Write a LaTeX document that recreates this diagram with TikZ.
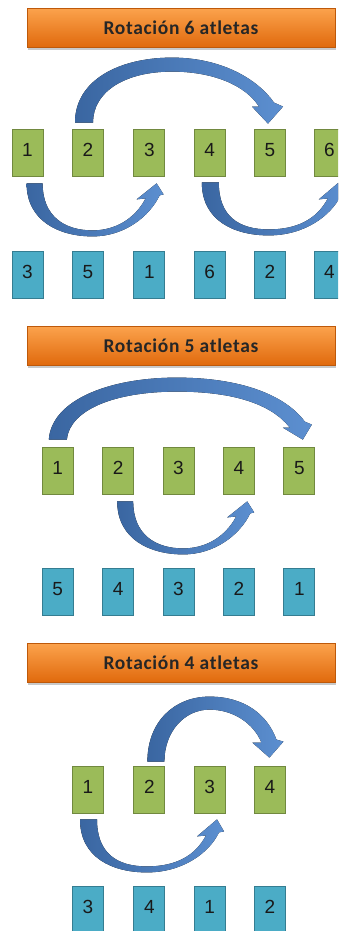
\documentclass[tikz,border=0pt]{standalone}
\usepackage{fontspec}
\setmainfont{Liberation Sans}
\newfontfamily\titlefont[LetterSpace=3.5]{Carlito}
\usetikzlibrary{shadows}
\definecolor{gfill}{HTML}{9BBB59}
\definecolor{gdraw}{HTML}{71893F}
\definecolor{bfill}{HTML}{4BACC6}
\definecolor{bdraw}{HTML}{357D91}
\definecolor{adark}{HTML}{3A66A1}
\definecolor{alight}{HTML}{5C8FD0}
\definecolor{otop}{HTML}{FBA24C}
\definecolor{obot}{HTML}{E0690C}
\newcommand\bx[1]{\raisebox{5.5pt}{#1}}
\tikzset{
  gbox/.style={draw=gdraw, fill=gfill, line width=0.8pt, minimum width=31pt,
    minimum height=47pt, inner sep=0pt, text=black!90, font=\fontsize{19}{19}\selectfont},
  bbox/.style={gbox, draw=bdraw, fill=bfill},
  banner/.style={top color=otop, bottom color=obot, draw=obot!85!black, line width=0.3pt,
    minimum width=308pt, minimum height=39pt, inner sep=0pt, text=black!85,
    font=\titlefont\bfseries\fontsize{19.5}{19.5}\selectfont,
    drop shadow={shadow xshift=1pt, shadow yshift=-2.5pt, opacity=0.3, fill=black!70}},
  barrow/.style={left color=adark, right color=alight, draw=none},
  lowA/.pic={\fill[barrow] (15,7) .. controls (15,45) and (48,60) .. (81,60)
      .. controls (113,60) and (138,40) .. (148,19) -- (152,18) -- (145,7) -- (125,23) -- (134,22)
      .. controls (123,43) and (103,54) .. (81,54) .. controls (53,54) and (31,40) .. (31,7) -- cycle;},
  lowB/.pic={\fill[barrow] (8,6) .. controls (8,44) and (40,59) .. (75,59)
      .. controls (110,59) and (137,40) .. (147,19) -- (152,18) -- (145,6) -- (125,23) -- (134,22)
      .. controls (123,43) and (103,53) .. (75,53) .. controls (45,53) and (25,40) .. (25,6) -- cycle;}
}
\begin{document}
\begin{tikzpicture}[x=1pt,y=-1pt]
\useasboundingbox (0,0) rectangle (338,931);
\clip (0,0) rectangle (338,931);
% ---------- Section 1 ----------
\node[banner] (t1) at (181,28) {Rotación 6 atletas};
\node[gbox] (a1) at (27.5,152.5) {\bx{1}};
\node[gbox] (a2) at (87.9,152.5) {\bx{2}};
\node[gbox] (a3) at (149.3,152.5) {\bx{3}};
\node[gbox] (a4) at (209.7,152.5) {\bx{4}};
\node[gbox] (a5) at (269.8,152.5) {\bx{5}};
\node[gbox] (a6) at (329.5,152.5) {\bx{6}};
\node[bbox] (b1) at (27.5,274.5) {\bx{3}};
\node[bbox] (b2) at (87.9,274.5) {\bx{5}};
\node[bbox] (b3) at (149.3,274.5) {\bx{1}};
\node[bbox] (b4) at (209.7,274.5) {\bx{6}};
\node[bbox] (b5) at (269.8,274.5) {\bx{2}};
\node[bbox] (b6) at (329.5,274.5) {\bx{4}};
\begin{scope}[shift={(a2.north west)}]
\fill[barrow] (3,-6) .. controls (3,-49) and (48,-71) .. (100,-71)
  .. controls (150,-71) and (186,-49) .. (202,-26) -- (211,-22) -- (196,-5) -- (180,-22) -- (187,-22)
  .. controls (173,-44) and (140,-57) .. (100,-57) .. controls (53,-57) and (21,-37) .. (21,-6) -- cycle;
\end{scope}
\pic at (a1.south west) {lowA};
\pic at (a4.south west) {lowB};
% ---------- Section 2 ----------
\node[banner] (t2) at (181,346) {Rotación 5 atletas};
\node[gbox] (c1) at (57.7,470.5) {\bx{1}};
\node[gbox] (c2) at (118.1,470.5) {\bx{2}};
\node[gbox] (c3) at (178.5,470.5) {\bx{3}};
\node[gbox] (c4) at (238.9,470.5) {\bx{4}};
\node[gbox] (c5) at (299.3,470.5) {\bx{5}};
\node[bbox] (d1) at (57.7,592) {\bx{5}};
\node[bbox] (d2) at (118.1,592) {\bx{4}};
\node[bbox] (d3) at (178.5,592) {\bx{3}};
\node[bbox] (d4) at (238.9,592) {\bx{2}};
\node[bbox] (d5) at (299.3,592) {\bx{1}};
\begin{scope}[shift={(c1.north west)}]
\fill[barrow] (7,-7) .. controls (10,-47) and (68,-69) .. (135,-69)
  .. controls (198,-69) and (243,-52) .. (263,-25) -- (270,-22) -- (261,-7) -- (241,-19) -- (248,-19)
  .. controls (230,-42) and (193,-55) .. (135,-55) .. controls (73,-55) and (28,-37) .. (25,-7) -- cycle;
\end{scope}
\pic at (c2.south west) {lowA};
% ---------- Section 3 ----------
\node[banner] (t3) at (181,663) {Rotación 4 atletas};
\node[gbox] (e1) at (87.9,789.5) {\bx{1}};
\node[gbox] (e2) at (149.3,789.5) {\bx{2}};
\node[gbox] (e3) at (209.7,789.5) {\bx{3}};
\node[gbox] (e4) at (269.8,789.5) {\bx{4}};
\node[bbox] (f1) at (87.9,909.5) {\bx{3}};
\node[bbox] (f2) at (149.3,909.5) {\bx{4}};
\node[bbox] (f3) at (209.7,909.5) {\bx{1}};
\node[bbox] (f4) at (269.8,909.5) {\bx{2}};
\begin{scope}[shift={(e2.north west)}]
\fill[barrow] (14,-4) .. controls (14,-44) and (41,-69) .. (76,-69)
  .. controls (111,-69) and (134,-51) .. (143,-26) -- (150,-24) -- (136,-8) -- (119,-23) -- (128,-23)
  .. controls (121,-41) and (101,-56) .. (76,-56) .. controls (51,-56) and (31,-34) .. (31,-4) -- cycle;
\end{scope}
\pic at (e1.south west) {lowB};
\end{tikzpicture}
\end{document}
